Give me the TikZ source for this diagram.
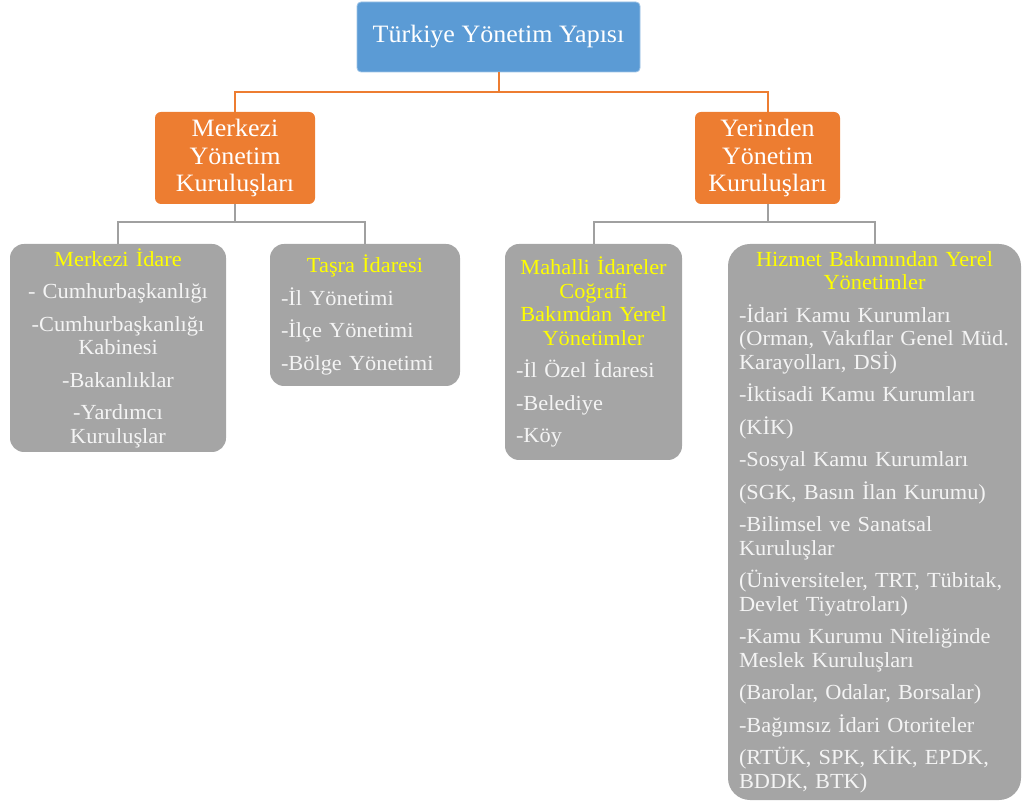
\documentclass[tikz,border=0pt]{standalone}
\usepackage{fontspec}
\setmainfont[FakeStretch=1.04]{Liberation Serif}
\usepackage{tikz}
\usetikzlibrary{positioning, calc}

\definecolor{topblue}{HTML}{5B9BD5}
\definecolor{headorange}{HTML}{ED7D31}
\definecolor{boxgray}{HTML}{A5A5A5}
\definecolor{linegray}{HTML}{A0A0A0}
\definecolor{boxtext}{HTML}{F4F4F4}
\definecolor{titleyellow}{HTML}{FFFF00}
\newcommand{\boxtitle}[1]{{\centering\leavevmode\color{titleyellow}#1\par}}

\begin{document}
\begin{tikzpicture}[x=1pt, y=1pt, thick,
  top node/.style={rectangle, rounded corners=4pt, fill=topblue, draw=topblue!60!white, text=white,
    minimum width=283pt, minimum height=70pt, font=\fontsize{25}{27.5}\selectfont},
  head node/.style={rectangle, rounded corners=6pt, fill=headorange, text=white, align=center,
    minimum height=92pt, font=\fontsize{25}{27.5}\selectfont},
  gray node/.style={rectangle, rounded corners=14pt, fill=boxgray, text=boxtext, align=left,
    inner xsep=11pt, inner ysep=4pt, font=\fontsize{21.5}{23.5}\selectfont,
    execute at begin node=\setlength{\parskip}{9pt}},
  orange line/.style={draw=headorange, line width=2pt},
  gray line/.style={draw=linegray, line width=2pt}]
  \useasboundingbox (0,0) rectangle (1024,803);

  \node[top node] (top) at (498.5,766) {Türkiye Yönetim Yapısı};
  \node[head node, minimum width=160pt] (merkezi) at (235,645) {Merkezi\\ Yönetim\\ Kuruluşları};
  \node[head node, minimum width=145pt] (yerinden) at (767.5,645) {Yerinden\\ Yönetim\\ Kuruluşları};

  \node[gray node, text width=194pt, minimum height=208pt, align=center] (idare) at (118,455) {%
    \boxtitle{Merkezi İdare}
    - Cumhurbaşkanlığı\par
    -Cumhurbaşkanlığı\\ Kabinesi\par
    -Bakanlıklar\par
    -Yardımcı\\ Kuruluşlar};
  \node[gray node, text width=168pt, minimum height=142pt] (tasra) at (365,488) {%
    \boxtitle{Taşra İdaresi}
    -İl Yönetimi\par
    -İlçe Yönetimi\par
    -Bölge Yönetimi};
  \node[gray node, text width=155pt, minimum height=216pt] (mahalli) at (593.5,451) {%
    \boxtitle{Mahalli İdareler\\ Coğrafi\\ Bakımdan Yerel\\ Yönetimler}
    -İl Özel İdaresi\par
    -Belediye\par
    -Köy};
  \node[gray node, text width=271pt, minimum height=556pt, rounded corners=22pt] (hizmet) at (874.5,281) {%
    \boxtitle{Hizmet Bakımından Yerel\\ Yönetimler}
    -İdari Kamu Kurumları\\ (Orman, Vakıflar Genel Müd.\\ Karayolları, DSİ)\par
    -İktisadi Kamu Kurumları\par
    (KİK)\par
    -Sosyal Kamu Kurumları\par
    (SGK, Basın İlan Kurumu)\par
    -Bilimsel ve Sanatsal\\ Kuruluşlar\par
    (Üniversiteler, TRT, Tübitak,\\ Devlet Tiyatroları)\par
    -Kamu Kurumu Niteliğinde\\ Meslek Kuruluşları\par
    (Barolar, Odalar, Borsalar)\par
    -Bağımsız İdari Otoriteler\par
    (RTÜK, SPK, KİK, EPDK,\\ BDDK, BTK)};

  \draw[orange line] (top.south) -- ++(0,-20) -| (merkezi.north);
  \draw[orange line] (top.south) -- ++(0,-20) -| (yerinden.north);
  \draw[gray line] (merkezi.south) -- ++(0,-18) -| (idare.north);
  \draw[gray line] (merkezi.south) -- ++(0,-18) -| (tasra.north);
  \draw[gray line] (yerinden.south) -- ++(0,-18) -| (mahalli.north);
  \draw[gray line] (yerinden.south) -- ++(0,-18) -| (hizmet.north);
\end{tikzpicture}
\end{document}
